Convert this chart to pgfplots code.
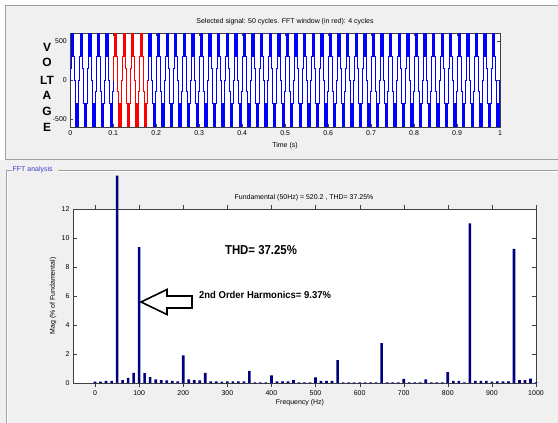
\documentclass[border=0pt]{standalone}
\usepackage{pgfplots}
\pgfplotsset{compat=1.18}
\usepackage{pgfplotstable}
\usepackage{fontspec}
\setmainfont{Liberation Sans}
\definecolor{panelgray}{RGB}{240,240,240}
\definecolor{framegray}{RGB}{160,160,160}
\definecolor{navybar}{RGB}{0,0,128}
\definecolor{matblue}{RGB}{0,0,255}
\definecolor{matred}{RGB}{255,0,0}
\definecolor{grouptext}{RGB}{60,60,200}

% one 50 Hz cycle of the inverter output (t in ms, v in V)
\pgfplotstableread{
t v
0 0
0.5 0
0.5 150
1.2 150
1.2 300
2.25 300
2.25 600
2.75 600
2.75 300
3.25 300
3.25 600
3.75 600
3.75 300
4.25 300
4.25 600
4.75 600
4.75 300
5.25 300
5.25 600
5.75 600
5.75 300
6.25 300
6.25 600
6.75 600
6.75 300
7.25 300
7.25 600
7.75 600
7.75 300
8.8 300
8.8 150
9.5 150
9.5 0
10.5 0
10.5 -150
11.2 -150
11.2 -300
12.25 -300
12.25 -600
12.75 -600
12.75 -300
13.25 -300
13.25 -600
13.75 -600
13.75 -300
14.25 -300
14.25 -600
14.75 -600
14.75 -300
15.25 -300
15.25 -600
15.75 -600
15.75 -300
16.25 -300
16.25 -600
16.75 -600
16.75 -300
17.25 -300
17.25 -600
17.75 -600
17.75 -300
18.8 -300
18.8 -150
19.5 -150
19.5 0
20 0
}\cyc

% FFT spectrum (Hz, % of fundamental)
\pgfplotstableread{
f m
0 0.10
12.5 0.10
25 0.15
37.5 0.15
50 14.3
62.5 0.20
75 0.35
87.5 0.70
100 9.37
112.5 0.68
125 0.40
137.5 0.25
150 0.20
162.5 0.18
175 0.15
187.5 0.12
200 1.90
212.5 0.25
225 0.20
237.5 0.18
250 0.70
262.5 0.12
275 0.12
287.5 0.10
300 0.12
312.5 0.12
325 0.12
337.5 0.12
350 0.83
362.5 0.05
375 0.05
387.5 0.05
400 0.53
412.5 0.12
425 0.12
437.5 0.12
450 0.20
462.5 0.05
475 0.05
487.5 0.05
500 0.38
512.5 0.15
525 0.15
537.5 0.15
550 1.57
562.5 0.05
575 0.05
587.5 0.05
600 0.05
612.5 0.05
625 0.05
637.5 0.05
650 2.75
662.5 0.05
675 0.05
687.5 0.05
700 0.28
712.5 0.05
725 0.05
737.5 0.05
750 0.25
762.5 0.05
775 0.05
787.5 0.05
800 0.75
812.5 0.15
825 0.15
837.5 0.05
850 11.0
862.5 0.15
875 0.15
887.5 0.15
900 0.10
912.5 0.12
925 0.12
937.5 0.12
950 9.25
962.5 0.20
975 0.20
987.5 0.30
1000 0.05
}\fft

\newcommand{\smallf}{\fontsize{7}{8}\selectfont}

\begin{document}
\begin{tikzpicture}
% backgrounds
\fill[panelgray] (0,0) rectangle (558bp,423bp);
\fill[white] (0,418bp) rectangle (558bp,423bp);
\fill[white] (0,263bp) rectangle (5.5bp,423bp);
\draw[framegray,line width=0.6pt] (558bp,418bp) -- (5.5bp,418bp) -- (5.5bp,263.5bp) -- (558bp,263.5bp);
% FFT group frame
\draw[framegray,line width=0.5pt] (6bp,0) -- (6bp,253bp) -- (12bp,253bp);
\draw[framegray,line width=0.5pt] (58bp,253bp) -- (558bp,253bp);
\draw[white,line width=0.5pt] (7bp,0) -- (7bp,252bp);
\draw[white,line width=0.5pt] (58bp,252bp) -- (558bp,252bp);
\node[anchor=west,inner sep=0pt,text=grouptext,font=\smallf] at (12.5bp,253bp) {FFT analysis};

% ---------- top axis: time signal ----------
\begin{axis}[
  at={(70.3bp,296bp)}, anchor=south west,
  scale only axis, width=429.7bp, height=94bp,
  xmin=0, xmax=1, ymin=-600, ymax=600,
  xtick={0,0.1,0.2,0.3,0.4,0.5,0.6,0.7,0.8,0.9,1},
  xticklabels={0,0.1,0.2,0.3,0.4,0.5,0.6,0.7,0.8,0.9,1},
  ytick={-500,0,500}, yticklabels={-500,0,500},
  tick label style={font=\smallf},
  /pgf/number format/assume math mode=true,
  major tick length=3bp,
  axis line style={black!75}, tick style={black!75},
  axis background/.style={fill=white},
]
\pgfplotsinvokeforeach{0,...,4}{
  \addplot[matblue,line width=0.6pt] table[x expr=\thisrow{t}/1000+#1*0.02, y=v]{\cyc};
}
\pgfplotsinvokeforeach{5,...,8}{
  \addplot[matred,line width=0.6pt] table[x expr=\thisrow{t}/1000+#1*0.02, y=v]{\cyc};
}
\pgfplotsinvokeforeach{9,...,49}{
  \addplot[matblue,line width=0.6pt] table[x expr=\thisrow{t}/1000+#1*0.02, y=v]{\cyc};
}
\end{axis}
\node[font=\smallf] at (285bp,401bp) {Selected signal: 50 cycles. FFT window (in red): 4 cycles};
\node[font=\smallf] at (285bp,277bp) {Time (s)};
\begin{scope}[every node/.style={font=\bfseries\fontsize{12}{12}\selectfont,inner sep=0pt}]
\node at (47bp,376bp) {V};
\node at (47bp,361bp) {O};
\node at (47bp,343bp) {LT};
\node at (47bp,328bp) {A};
\node at (47bp,312bp) {G};
\node at (47bp,296bp) {E};
\end{scope}

% ---------- bottom axis: FFT ----------
\begin{axis}[
  at={(73bp,40bp)}, anchor=south west,
  scale only axis, width=463bp, height=174bp,
  xmin=-50, xmax=1000, ymin=0, ymax=12,
  xtick={0,100,200,300,400,500,600,700,800,900,1000},
  xticklabels={0,100,200,300,400,500,600,700,800,900,1000},
  ytick={0,2,4,6,8,10,12}, yticklabels={0,2,4,6,8,10,12},
  tick label style={font=\smallf},
  /pgf/number format/assume math mode=true,
  major tick length=4bp,
  axis line style={black!75}, tick style={black!75},
  axis background/.style={fill=white},
  clip=false,
  ybar, bar width=6,
]
\addplot[fill=navybar, draw=none] table[x=f, y=m]{\fft};
\end{axis}
\node[font=\smallf] at (304bp,225bp) {Fundamental (50Hz) = 520.2 , THD= 37.25\%};
\node[font=\smallf] at (300bp,20bp) {Frequency (Hz)};
\node[font=\smallf,rotate=90] at (53bp,127bp) {Mag (\% of Fundamental)};
\node[font=\bfseries\fontsize{13}{13}\selectfont] at (261bp,173bp) {\scalebox{0.88}[1]{THD= 37.25\%}};
\node[anchor=west,inner sep=0pt,font=\bfseries\fontsize{10}{10}\selectfont] at (199bp,128bp) {\scalebox{0.95}[1]{2nd Order Harmonics= 9.37\%}};
\draw[black,line width=1.6pt,fill=white,line join=miter]
  (141bp,121bp) -- (167bp,133.5bp) -- (167bp,127bp) -- (192bp,127bp) -- (192bp,115bp) -- (167bp,115bp) -- (167bp,108.5bp) -- cycle;

\pgfresetboundingbox
\useasboundingbox (0,0) rectangle (558bp,423bp);
\end{tikzpicture}
\end{document}
